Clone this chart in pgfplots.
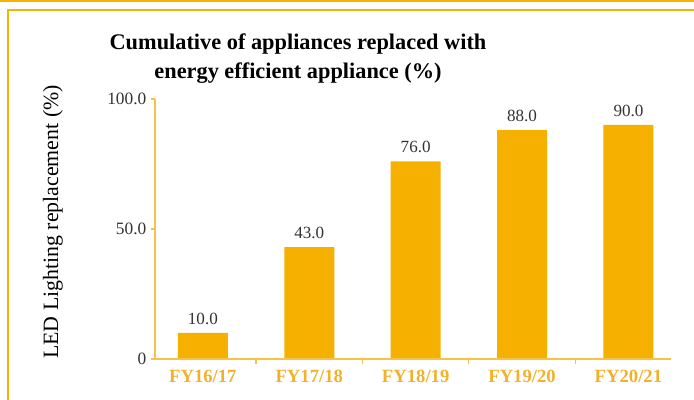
\documentclass[border=0pt]{standalone}
\usepackage{pgfplots}
\pgfplotsset{compat=1.18}
\usepackage{fontspec}
\setmainfont{Liberation Serif}
\definecolor{bargold}{HTML}{F5B000}
\definecolor{axisgold}{HTML}{F6C24C}
\definecolor{labgold}{HTML}{F2B12A}
\definecolor{framegold}{HTML}{F5B400}
\definecolor{numgray}{HTML}{333333}
\begin{document}
\begin{tikzpicture}[x=0.75pt,y=0.75pt]
\path[use as bounding box] (0,0) rectangle (694,400);
% frame lines
\draw[framegold,line width=1.2pt] (0,399) -- (694,399);
\draw[framegold,line width=1.2pt] (8,0) -- (8,390) -- (694,390);
\begin{axis}[
  at={(116.25pt,30.75pt)}, anchor=south west,
  scale only axis, width=387pt, height=195pt,
  xmin=-0.45, xmax=4.4, ymin=0, ymax=100,
  axis line style={draw=none},
  xtick pos=bottom, ytick pos=left,
  xtick={0,1,2,3,4},
  xticklabels={FY16/17,FY17/18,FY18/19,FY19/20,FY20/21},
  minor xtick={0.5,1.5,2.5,3.5},
  tick align=outside,
  major x tick style={draw=none},
  minor tick length=4pt,
  major tick length=3pt,
  tick style={axisgold, line width=0.9pt},
  ytick={0,50,100},
  yticklabels={0,50.0,100.0},
  /pgf/number format/assume math mode=true,
  xticklabel style={font=\fontsize{14}{16}\selectfont\bfseries, text=labgold, yshift=-2pt},
  yticklabel style={font=\fontsize{13}{15}\selectfont, text=numgray},
  ybar, bar width=0.47,
  nodes near coords={\pgfmathprintnumber[fixed,fixed zerofill,precision=1]{\pgfplotspointmeta}},
  every node near coord/.append style={font=\fontsize{12.8}{15}\selectfont, text=numgray, yshift=3pt},
  clip=false,
]
\addplot[fill=bargold, draw=none] coordinates {(0,10) (1,43) (2,76) (3,88) (4,90)};
\draw[axisgold, line width=1.1pt] (axis cs:-0.45,100) -- (axis cs:-0.45,0) -- (axis cs:4.4,0);
\end{axis}
\node[font=\fontsize{16.75}{21.75}\selectfont\bfseries, align=center] at (298,341.5) {Cumulative of appliances replaced with\\energy efficient appliance (\%)};
\node[font=\fontsize{16.4}{18}\selectfont, rotate=90] at (53,178) {LED Lighting replacement (\%)};
\end{tikzpicture}
\end{document}
